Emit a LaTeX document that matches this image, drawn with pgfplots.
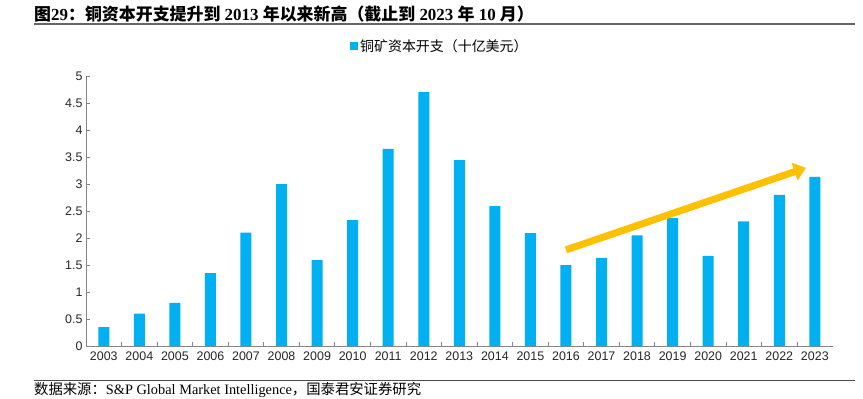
\documentclass[border=0pt]{standalone}
\usepackage{fontspec}
\setmainfont{Liberation Serif}
\newfontfamily\cjk{Noto Sans CJK SC}
\newfontfamily\arial{Liberation Sans}
\usepackage{pgfplots}
\pgfplotsset{compat=1.18}
\usetikzlibrary{arrows.meta}
\definecolor{barblue}{HTML}{00B0F0}
\definecolor{arrowyellow}{HTML}{FFC000}
\definecolor{axisgray}{HTML}{868686}
\pgfplotstableread{
x y
0 0.35
1 0.60
2 0.80
3 1.35
4 2.10
5 3.00
6 1.59
7 2.33
8 3.65
9 4.70
10 3.44
11 2.59
12 2.09
13 1.50
14 1.63
15 2.05
16 2.37
17 1.67
18 2.31
19 2.80
20 3.13
}\capex
\begin{document}
\begin{tikzpicture}[x=1bp,y=1bp]
\path (0,0) rectangle (863,398);
\node[anchor=west, inner sep=0] at (34, 384) {\fontsize{17}{17}\selectfont\bfseries{\cjk 图}29{\cjk ：铜资本开支提升到} 2013 {\cjk 年以来新高（截止到} 2023 {\cjk 年} 10 {\cjk 月）}};
\draw[line width=1.5bp, color=black!60] (34,374) -- (855,374);
\draw[line width=0.8bp, color=black!70] (34,18) -- (855,18);
\node[anchor=west, inner sep=0] at (34,8) {\fontsize{14.4}{14.4}\selectfont{\cjk 数据来源：}S\&P Global Market Intelligence{\cjk ，国泰君安证券研究}};
\begin{axis}[
  at={(86bp,52bp)}, anchor=south west,
  scale only axis, width=746.6bp, height=270bp,
  xmin=-0.5, xmax=20.5, ymin=0, ymax=5,
  axis x line*=bottom, axis y line*=left,
  axis line style={axisgray, line width=0.8bp, -},
  xtick={0,...,20},
  xticklabels={2003,2004,2005,2006,2007,2008,2009,2010,2011,2012,2013,2014,2015,2016,2017,2018,2019,2020,2021,2022,2023},
  minor xtick={0.5,1.5,...,19.5},
  ytick={0,0.5,...,5},
  yticklabels={0,0.5,1,1.5,2,2.5,3,3.5,4,4.5,5},
  tick align=inside,
  major tick length=4bp, minor tick length=4bp,
  x tick style={draw=none},
  minor x tick style={axisgray, line width=0.8bp, draw=axisgray},
  y tick style={axisgray, line width=0.8bp},
  tick label style={font=\arial\fontsize{12.5}{13}\selectfont, text=black!85},
  xticklabel style={yshift=-2bp},
  legend style={at={(0.474,1.111)}, anchor=center, draw=none, fill=none,
    font=\cjk\fontsize{14}{14}\selectfont, inner sep=0pt},
  legend image code/.code={\fill[barblue] (0bp,-4bp) rectangle (8bp,4bp);},
  clip=false,
]
\addplot[ybar, bar width=11bp, fill=barblue, draw=none] table[x=x, y=y] {\capex};
\addlegendentry{铜矿资本开支（十亿美元）}
\draw[-{Triangle[length=12bp,width=18bp]}, line width=7bp, arrowyellow] (axis cs:13,1.78) -- (axis cs:19.75,3.3);
\end{axis}
\end{tikzpicture}
\end{document}
